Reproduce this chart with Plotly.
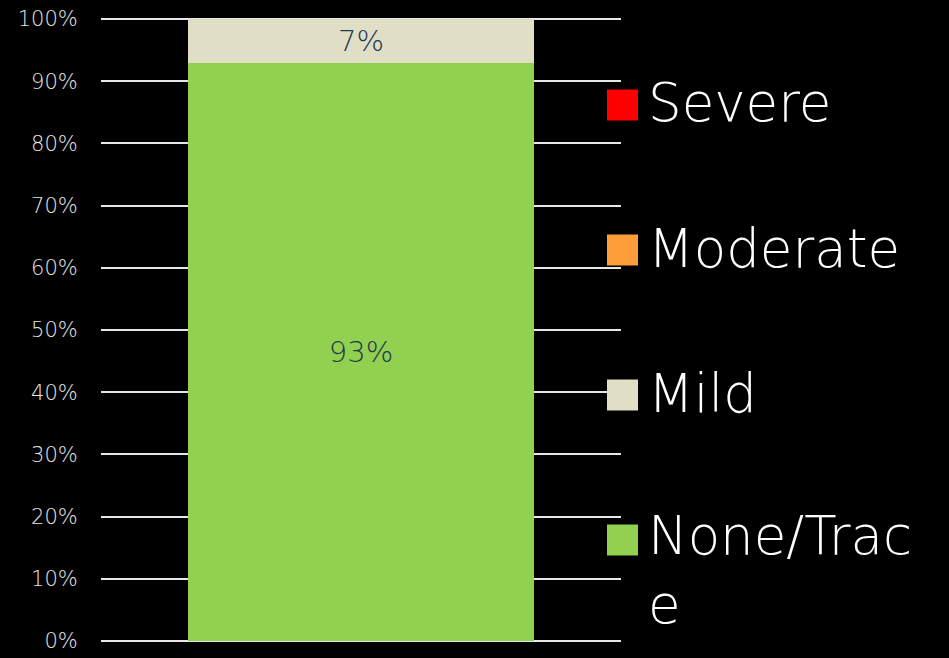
import plotly.graph_objects as go

# Data: one stacked column, severity shares in percent
category = ["All"]
series_names = ["None/Trace", "Mild", "Moderate", "Severe"]
series_values = [[93], [7], [0], [0]]
series_colors = ["#92D050", "#E0DFC6", "#FF9D3B", "#FF0000"]
tick_values = [0, 10, 20, 30, 40, 50, 60, 70, 80, 90, 100]
tick_labels = [f"{v}%" for v in tick_values]
legend_labels = ["Severe", "Moderate", "Mild", "None/Trac<br>e"]

W, H = 949, 658
ML, MR, MT, MB = 101, 328, 17, 17
Y_TOP = 100.32  # a hair above 100 so the top gridline is kept
FONT = "DejaVu Sans"

fig = go.Figure()
for name, vals, color in zip(series_names, series_values, series_colors):
    fig.add_trace(go.Bar(
        x=category, y=vals, name=name,
        marker=dict(color=color, line=dict(width=0)),
        text=[f"{v}%" if v else "" for v in vals],
        textposition="inside", insidetextanchor="middle",
        textfont=dict(family=FONT, size=29, color="#1F3A56", weight=200),
        width=0.667, showlegend=False, hoverinfo="skip",
    ))

# Legend drawn as large swatches + labels, top-to-bottom in reverse stack order
pw, ph = W - ML - MR, H - MT - MB
def px_x(p):
    return (p - ML) / pw
def px_y(p):
    return 1 - (p - MT) / ph

swatch_centers = [105, 250, 395, 540]
for lbl, color, cy in zip(legend_labels, series_colors[::-1], swatch_centers):
    fig.add_shape(type="rect", xref="paper", yref="paper",
                  x0=px_x(607), x1=px_x(638), y0=px_y(cy - 15.5), y1=px_y(cy + 15.5),
                  fillcolor=color, line=dict(width=0), layer="above")
    multi = "<br>" in lbl
    fig.add_annotation(xref="paper", yref="paper", x=px_x(646),
                       y=px_y(cy - 37) if multi else px_y(cy - 2),
                       xanchor="left", yanchor="top" if multi else "middle",
                       text=lbl, showarrow=False, align="left",
                       font=dict(family=FONT, size=53, color="#FFFFFF", weight=200))

fig.update_layout(
    width=W, height=H,
    margin=dict(l=ML, r=MR, t=MT, b=MB, pad=0),
    paper_bgcolor="#000000", plot_bgcolor="#000000",
    barmode="stack", bargap=0,
    xaxis=dict(showticklabels=False, showgrid=False, zeroline=False,
               showline=False, range=[-0.5, 0.5], automargin=False),
    yaxis=dict(range=[0, Y_TOP], tickvals=tick_values, ticktext=tick_labels,
               showgrid=True, gridcolor="#E6E6E6", gridwidth=1.6,
               zeroline=True, zerolinecolor="#E6E6E6", zerolinewidth=1.6,
               ticks="outside", ticklen=18, tickcolor="rgba(0,0,0,0)",
               tickfont=dict(family=FONT, size=21, color="#E4E4E4", weight=200),
               showline=False, automargin=False),
    showlegend=False,
)

fig.write_html("out.html")
